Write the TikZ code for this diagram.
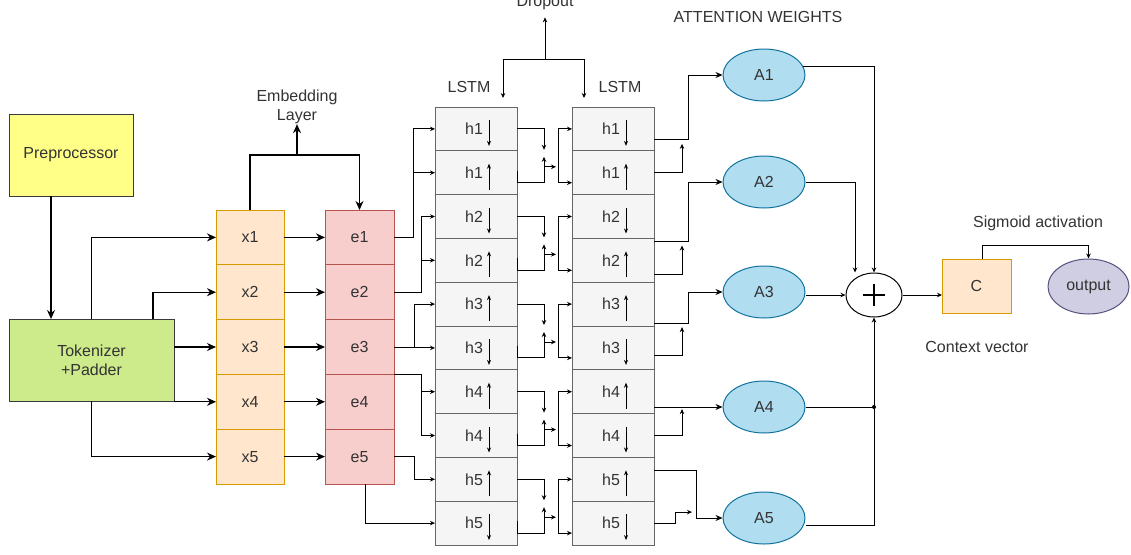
\documentclass[tikz,border=0pt]{standalone}
\usepackage{fontspec}
\setmainfont{Liberation Sans}
\usetikzlibrary{arrows.meta,positioning,calc,shapes.geometric}
\definecolor{txtgray}{HTML}{333333}
\definecolor{prepfill}{HTML}{FFFF88}
\definecolor{tokfill}{HTML}{CDEB8B}
\definecolor{boxline}{HTML}{36393D}
\definecolor{xfill}{HTML}{FFE6CC}
\definecolor{xline}{HTML}{D79B00}
\definecolor{efill}{HTML}{F8CECC}
\definecolor{eline}{HTML}{B85450}
\definecolor{lfill}{HTML}{F5F5F5}
\definecolor{lline}{HTML}{666666}
\definecolor{afill}{HTML}{B1DDF0}
\definecolor{aline}{HTML}{10739E}
\definecolor{ofill}{HTML}{D0CEE2}
\definecolor{oline}{HTML}{56517E}

\begin{document}
\begin{tikzpicture}[x=1pt,y=-1pt,
  font=\fontsize{16}{19}\selectfont, text=txtgray,
  box/.style={draw, rectangle, inner sep=0pt, outer sep=0pt, line width=1pt},
  cell/.style={box, fill=lfill, draw=lline, minimum width=82pt, minimum height=43.8pt},
  xcell/.style={box, fill=xfill, draw=xline, minimum width=68pt, minimum height=54.8pt},
  ecell/.style={box, fill=efill, draw=eline, minimum width=69pt, minimum height=54.8pt},
  att/.style={draw=aline, fill=afill, ellipse, line width=1pt, minimum width=82pt, minimum height=52pt, inner sep=0pt},
  lbl/.style={inner sep=0pt},
  arr/.style={line width=1.1pt, -{Stealth[length=9pt,width=8pt]}},
  marr/.style={line width=1pt, -{Stealth[length=7pt,width=6pt]}},
  sarr/.style={line width=1pt, -{Stealth[length=5pt,width=4.5pt]}},
  ln/.style={line width=1pt}]
\useasboundingbox (0,0) rectangle (1131,554);

% input side
\node[box, fill=prepfill, draw=boxline, minimum width=124pt, minimum height=82pt] (prep) at (71,155) {Preprocessor};
\node[box, fill=tokfill, draw=boxline, minimum width=165pt, minimum height=82pt, align=center] (tok) at (91.5,360) {Tokenizer\\+Padder};
\draw[arr] ($(prep.south west)+(42,0)$) -- ($(tok.north west)+(42,0)$);

\foreach \i in {1,...,5}{
  \node[xcell] (x\i) at (250,{237.4+(\i-1)*54.8}) {x\i};
  \node[ecell] (e\i) at (359.5,{237.4+(\i-1)*54.8}) {e\i};
  \draw[arr] (x\i) -- (e\i);
}
\draw[arr] (tok.north) |- (x1.west);
\draw[arr] ($(tok.north east)+(-21,0)$) |- (x2.west);
\draw[arr] (x3.west -| tok.east) -- (x3.west);
\draw[arr] (x4.west -| tok.east) -- (x4.west);
\draw[arr] (tok.south) |- (x5.west);

% embedding
\node[lbl, align=center] (emb) at (297,107) {Embedding\\Layer};
\coordinate (embj) at (297,155);
\draw[arr] (x1.north) |- (embj) -| (e1.north);
\draw[arr] (embj) -- (emb.south);

% two LSTM layers
\foreach \i/\k/\d in {1/1/1,2/1/-1,3/2/1,4/2/-1,5/3/-1,6/3/1,7/4/-1,8/4/1,9/5/-1,10/5/1}{
  \node[cell] (l1-\i) at (476,{107+(\i-0.5)*43.8}) {};
  \node[cell] (l2-\i) at (613,{107+(\i-0.5)*43.8}) {};
  \node[lbl] at ($(l1-\i.center)+(-2,0)$) {h\k};
  \node[lbl] at ($(l2-\i.center)+(-2,0)$) {h\k};
  \draw[ln, -{Stealth[length=5pt,width=4pt]}] ($(l1-\i.center)+(13,{4-13*\d})$) -- ++(0,{26*\d});
  \draw[ln, -{Stealth[length=5pt,width=4pt]}] ($(l2-\i.center)+(13,{4-13*\d})$) -- ++(0,{26*\d});
}
\node[lbl] (lstm1) at (469,87) {LSTM};
\node[lbl] (lstm2) at (620,87) {LSTM};

% dropout
\node[lbl] (drop) at (545,3) {Dropout};
\coordinate (dj) at (545,59);
\draw[sarr] (dj) -- ($(drop.south)+(0,7)$);
\draw[sarr] (dj) -| ($(l1-1.north east)+(-14,-9)$);
\draw[sarr] (dj) -| ($(l2-1.north west)+(12,-9)$);

% embeddings into first LSTM
\draw[sarr] (e1.east) -- ++(19,0) |- (l1-1.west);
\draw[sarr] ($(e1.east)+(19,0)$) |- (l1-2.west);
\draw[sarr] (e2.east) -- ++(27,0) |- (l1-3.west);
\draw[sarr] ($(e2.east)+(27,0)$) |- (l1-4.west);
\draw[sarr] (e3.east) -- ++(20,0) |- (l1-5.west);
\draw[sarr] ($(e3.east)+(20,0)$) |- (l1-6.west);
\draw[sarr] (e4.north east) -- ++(27,0) |- (l1-7.west);
\draw[sarr] ($(e4.north east)+(27,0)$) |- (l1-8.west);
\draw[sarr] (e5.east) -- ++(20,0) |- (l1-9.west);
\draw[sarr] ($(e5.south)+(6,0)$) |- (l1-10.west);

% first LSTM to second LSTM
\foreach \p in {1,...,5}{
  \pgfmathtruncatemacro{\a}{2*\p-1}
  \pgfmathtruncatemacro{\b}{2*\p}
  \coordinate (m\p) at ($(l1-\a.east)!0.5!(l1-\b.east)+(27,0)$);
  \draw[sarr] (l1-\a.east) -| ($(m\p)+(0,-1)$);
  \draw[sarr] ($(l1-\b.east)+(0,-2)$) -- ++(0,12) -| ($(m\p)+(0,6)$);
  \draw[sarr] ($(m\p)+(0,16)$) -- ++(12,0);
  \draw[sarr] ($(m\p)+(14,16)$) |- (l2-\a.west);
  \draw[sarr] ($(m\p)+(14,16)$) |- ($(l2-\b.west)+(0,10)$);
}

% attention weights
\node[lbl] (attw) at (758,17) {ATTENTION WEIGHTS};
\foreach \p/\y in {1/75,2/182,3/292,4/407,5/518}{
  \node[att] (a\p) at (764,\y) {A\p};
}
\foreach \p/\u/\l in {1/11/0,2/25/14,3/19/8}{
  \pgfmathtruncatemacro{\a}{2*\p-1}
  \pgfmathtruncatemacro{\b}{2*\p}
  \draw[marr] ($(l2-\a.east)+(0,\u)$) -- ++(34,0) |- (a\p.west);
  \draw[sarr] ($(l2-\b.east)+(0,\l)$) -- ++(28,0) -- ($(l2-\a.east)+(28,{\u+4})$);
}
\draw[marr] (l2-7.east |- a4.west) -- (a4.west);
\draw[sarr] (l2-8.east) -- ++(28,0) -- ($(l2-7.east)+(28,{407-391.6+2})$);
\draw[marr] ($(l2-9.east)+(0,-9)$) -- ++(42,0) |- (a5.west);
\draw[sarr] (l2-10.east) -- ++(21,0) -- ++(0,-11) -- ++(17,0);

% sum and output
\node[draw, ellipse, fill=white, line width=1pt, minimum width=56pt, minimum height=44pt, inner sep=0pt] (pl) at (874,295) {};
\draw[line width=2pt] ($(pl.center)+(-11,0)$) -- ++(22,0) ($(pl.center)+(0,-11)$) -- ++(0,22);
\draw[sarr] (a1.12) -| (pl.north);
\draw[sarr] (a2.east) -| ($(pl.north)+(-19,0)$);
\draw[sarr] (a3.east |- pl.west) -- (pl.west);
\coordinate (j4) at (pl.south |- a4.east);
\draw[sarr] (a4.east) -- (j4) -- (pl.south);
\draw[ln] ($(a5.east)+(0,7)$) -| (j4);
\fill (j4) circle (2pt);

\node[box, fill=xfill, draw=xline, minimum width=69pt, minimum height=54pt] (c) at (976.5,286) {C};
\node[draw=oline, fill=ofill, ellipse, line width=1pt, minimum width=81pt, minimum height=55pt, inner sep=0pt] (out) at (1088.5,286.5) {output};
\draw[sarr] (pl.east) -- (pl.east -| c.west);
\draw[sarr] ($(c.north)+(6,0)$) -- ++(0,-14) -| (out.north);
\node[lbl] (sig) at (1038,223) {Sigmoid activation};
\node[lbl] (ctx) at (977,347) {Context vector};
\end{tikzpicture}
\end{document}
